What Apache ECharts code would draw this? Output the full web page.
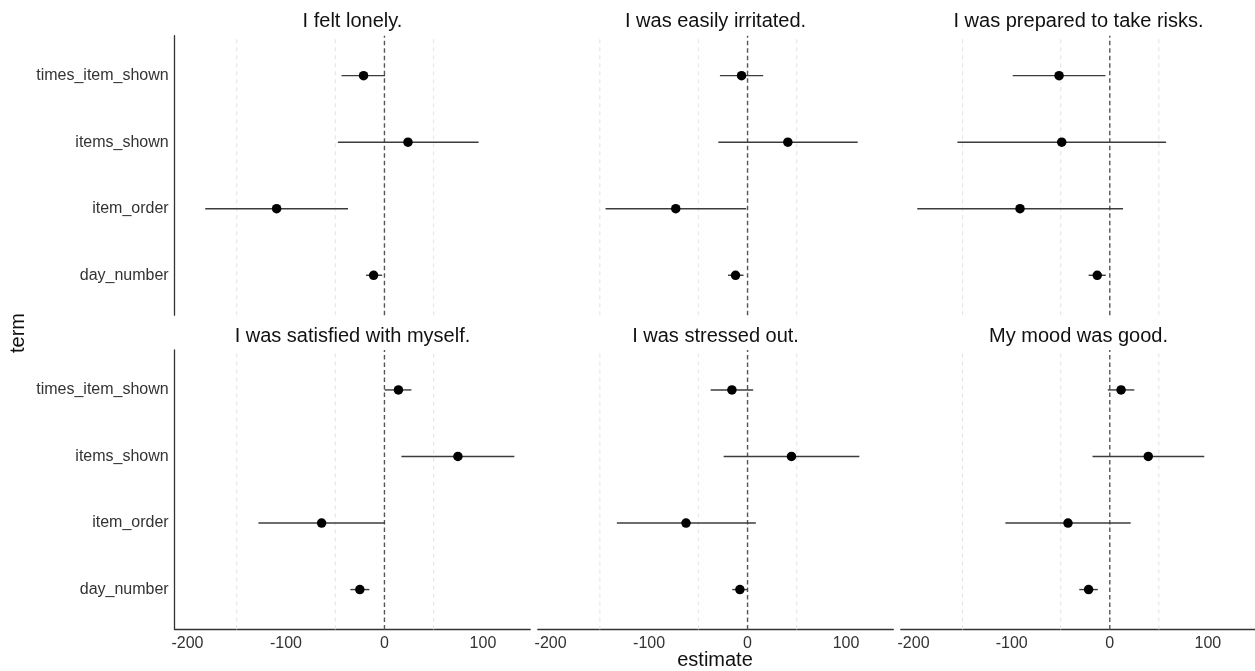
<!DOCTYPE html>
<html>
<head>
<meta charset="utf-8">
<script src="https://cdn.jsdelivr.net/npm/echarts@6/dist/echarts.min.js"></script>
<style>
html,body{margin:0;padding:0;background:#fff;}
#chart{width:1255px;height:671px;}
</style>
</head>
<body>
<div id="chart"></div>
<script>
// Terms, bottom to top
const terms = ['day_number', 'item_order', 'items_shown', 'times_item_shown'];
const panelTitles = ['I felt lonely.', 'I was easily irritated.', 'I was prepared to take risks.',
                     'I was satisfied with myself.', 'I was stressed out.', 'My mood was good.'];
const xTickValues = [-200, -100, 0, 100];
const gridValues = [-150, -50, 50];
const refValues = [0];

// Estimates and interval bounds (order follows terms)
const lonelyEst = [-11, -109.5, 23.9, -21.2];
const lonelyLo  = [-18.7, -182, -47.3, -43.6];
const lonelyHi  = [-2.3, -37, 95.6, 0.6];

const irritatedEst = [-12.2, -72.9, 40.9, -6.1];
const irritatedLo  = [-19.9, -144.2, -29.7, -28.1];
const irritatedHi  = [-4.1, -1.4, 111.8, 15.9];

const risksEst = [-12.8, -91.5, -49, -51.7];
const risksLo  = [-21.6, -196.2, -155.3, -99];
const risksHi  = [-4.1, 13.5, 57.4, -4.4];

const satisfiedEst = [-25, -63.8, 74.6, 14.2];
const satisfiedLo  = [-34.6, -128, 17.2, 0.2];
const satisfiedHi  = [-15.3, 0.5, 131.9, 27.4];

const stressedEst = [-7.8, -62.5, 44.6, -15.9];
const stressedLo  = [-15.5, -132.7, -24.3, -37.5];
const stressedHi  = [0, 8.4, 113.5, 5.7];

const moodEst = [-21.6, -42.6, 39.2, 11.5];
const moodLo  = [-31.1, -106.4, -17.6, -2];
const moodHi  = [-12.2, 21.3, 96.3, 25];

const panelEst = [lonelyEst, irritatedEst, risksEst, satisfiedEst, stressedEst, moodEst];
const panelLo  = [lonelyLo, irritatedLo, risksLo, satisfiedLo, stressedLo, moodLo];
const panelHi  = [lonelyHi, irritatedHi, risksHi, satisfiedHi, stressedHi, moodHi];

const FONT = "'Liberation Sans', Arial, Helvetica, sans-serif";
const chart = echarts.init(document.getElementById('chart'), null, {renderer: 'canvas'});

const grids = [], xAxes = [], yAxes = [], series = [], titles = [];
const colLeft = [174.7, 537.8, 900.8];
const rowTop = [35.7, 350];
const W = 355.5, H = 279.5;
const Y_MIN = -0.6, Y_MAX = 3.6;

function vlineSeries(i, values, color, width, dash, z) {
  return {
    type: 'custom', xAxisIndex: i, yAxisIndex: i, z: z, silent: true,
    data: values.map(v => [v]),
    encode: {x: 0},
    renderItem: function (params, api) {
      const a = api.coord([api.value(0), Y_MIN]);
      const b = api.coord([api.value(0), Y_MAX]);
      return {
        type: 'line',
        shape: {x1: a[0], y1: a[1], x2: b[0], y2: b[1]},
        style: {stroke: color, lineWidth: width, lineDash: dash}
      };
    }
  };
}

for (let i = 0; i < 6; i++) {
  const row = Math.floor(i / 3), col = i % 3;
  const left = colLeft[col], top = rowTop[row];
  grids.push({left: left, top: top, width: W, height: H, containLabel: false});
  titles.push({
    text: panelTitles[i], left: left + W / 2, top: top - 24, textAlign: 'center', padding: 0,
    textStyle: {fontFamily: FONT, fontSize: 20, fontWeight: 'normal', color: '#111'}
  });
  const bottomRow = row === 1, leftCol = col === 0;
  xAxes.push({
    type: 'value', gridIndex: i, min: -213, max: 148,
    axisLine: {show: bottomRow, onZero: false, lineStyle: {color: '#333', width: 1.3}},
    axisTick: {show: false},
    axisLabel: {show: bottomRow, customValues: xTickValues, margin: 6,
      fontFamily: FONT, fontSize: 16, color: '#333'},
    splitLine: {show: false}
  });
  yAxes.push({
    type: 'value', gridIndex: i, min: Y_MIN, max: Y_MAX,
    axisLine: {show: leftCol, onZero: false, lineStyle: {color: '#333', width: 1.3}},
    axisTick: {show: false},
    axisLabel: {show: leftCol, customValues: [0, 1, 2, 3], margin: 6,
      formatter: v => terms[Math.round(v)],
      fontFamily: FONT, fontSize: 16, color: '#333'},
    splitLine: {show: false}
  });
  // light grid lines and reference line at zero
  series.push(vlineSeries(i, gridValues, '#e2e2e2', 1, [4, 4], 1));
  series.push(vlineSeries(i, refValues, '#555', 1.4, [4.5, 3], 2));
  // error bars
  const lo = panelLo[i], hi = panelHi[i];
  series.push({
    type: 'custom', xAxisIndex: i, yAxisIndex: i, z: 3, silent: true,
    data: terms.map((t, j) => [lo[j], hi[j], j]),
    encode: {x: [0, 1], y: 2},
    renderItem: function (params, api) {
      const p1 = api.coord([api.value(0), api.value(2)]);
      const p2 = api.coord([api.value(1), api.value(2)]);
      return {
        type: 'line',
        shape: {x1: p1[0], y1: p1[1], x2: p2[0], y2: p2[1]},
        style: {stroke: '#3c3c3c', lineWidth: 1.4}
      };
    }
  });
  // point estimates
  series.push({
    type: 'scatter', xAxisIndex: i, yAxisIndex: i, z: 4, silent: true,
    symbol: 'circle', symbolSize: 9.5,
    itemStyle: {color: '#000', opacity: 1},
    data: panelEst[i].map((v, j) => [v, j])
  });
}

chart.setOption({
  animation: false,
  backgroundColor: '#fff',
  title: titles,
  grid: grids,
  xAxis: xAxes,
  yAxis: yAxes,
  series: series,
  graphic: [
    {type: 'text', x: 18, y: 333, rotation: Math.PI / 2,
      style: {text: 'term', fontFamily: FONT, fontSize: 20, fill: '#111', align: 'center', verticalAlign: 'middle'}},
    {type: 'text', x: 715, y: 660,
      style: {text: 'estimate', fontFamily: FONT, fontSize: 20, fill: '#111', align: 'center', verticalAlign: 'middle'}}
  ]
});
</script>
</body>
</html>
